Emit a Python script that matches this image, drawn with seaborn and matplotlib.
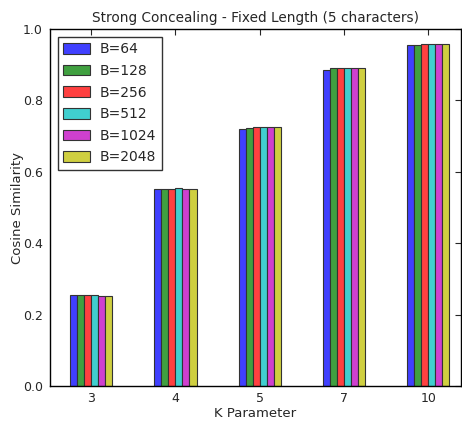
import matplotlib
matplotlib.use("Agg")
import matplotlib.pyplot as plt
import seaborn as sns
import pandas as pd

k_values = ["3", "4", "5", "7", "10"]
b_labels = ["B=64", "B=128", "B=256", "B=512", "B=1024", "B=2048"]
sim_b64 = [0.256, 0.552, 0.720, 0.886, 0.954]
sim_b128 = [0.256, 0.553, 0.723, 0.890, 0.954]
sim_b256 = [0.256, 0.553, 0.727, 0.890, 0.957]
sim_b512 = [0.254, 0.555, 0.725, 0.890, 0.957]
sim_b1024 = [0.252, 0.552, 0.726, 0.890, 0.957]
sim_b2048 = [0.252, 0.552, 0.727, 0.890, 0.957]
series = [sim_b64, sim_b128, sim_b256, sim_b512, sim_b1024, sim_b2048]

rows = []
for lab, vals in zip(b_labels, series):
    for k, v in zip(k_values, vals):
        rows.append({"K": k, "B": lab, "sim": v})
df = pd.DataFrame(rows)

colors = ["#4040FF", "#40A040", "#FF4040", "#40CFCF", "#CF40CF", "#CFCF40"]

sns.set_style("white")
plt.rcParams["font.family"] = ["DejaVu Sans"]
fig = plt.figure(figsize=(4.62, 4.21), dpi=100)
ax = fig.add_axes([0.108, 0.083, 0.890, 0.848])
sns.barplot(data=df, x="K", y="sim", hue="B", order=k_values, hue_order=b_labels,
            palette=colors, width=0.5, edgecolor="#333333", linewidth=0.8,
            saturation=1, errorbar=None, ax=ax)
ax.set_xlim(-0.49, 4.39)
ax.set_ylim(0, 1.0)
ax.set_yticks([0.0, 0.2, 0.4, 0.6, 0.8, 1.0])
ax.set_yticklabels(["0.0", "0.2", "0.4", "0.6", "0.8", "1.0"])
ax.tick_params(direction="in", top=True, right=True, length=4, labelsize=9, width=0.8)
ax.tick_params(axis="x", pad=4)
ax.tick_params(axis="y", pad=5)
for s in ax.spines.values():
    s.set_visible(True)
    s.set_color("black")
    s.set_linewidth(1.0)
ax.set_title("Strong Concealing - Fixed Length (5 characters)", fontsize=9.8, pad=5)
ax.set_xlabel("K Parameter", fontsize=9.5, labelpad=2)
ax.set_ylabel("Cosine Similarity", fontsize=9.5, labelpad=-1)
leg = ax.legend(loc="upper left", fontsize=10, frameon=True, fancybox=False,
                handlelength=1.95, handleheight=0.8, handletextpad=0.7,
                borderpad=0.4, labelspacing=0.55, borderaxespad=0.55)
leg.get_frame().set_edgecolor("black")
leg.get_frame().set_linewidth(1.0)
fig.savefig("out.png", dpi=100)
